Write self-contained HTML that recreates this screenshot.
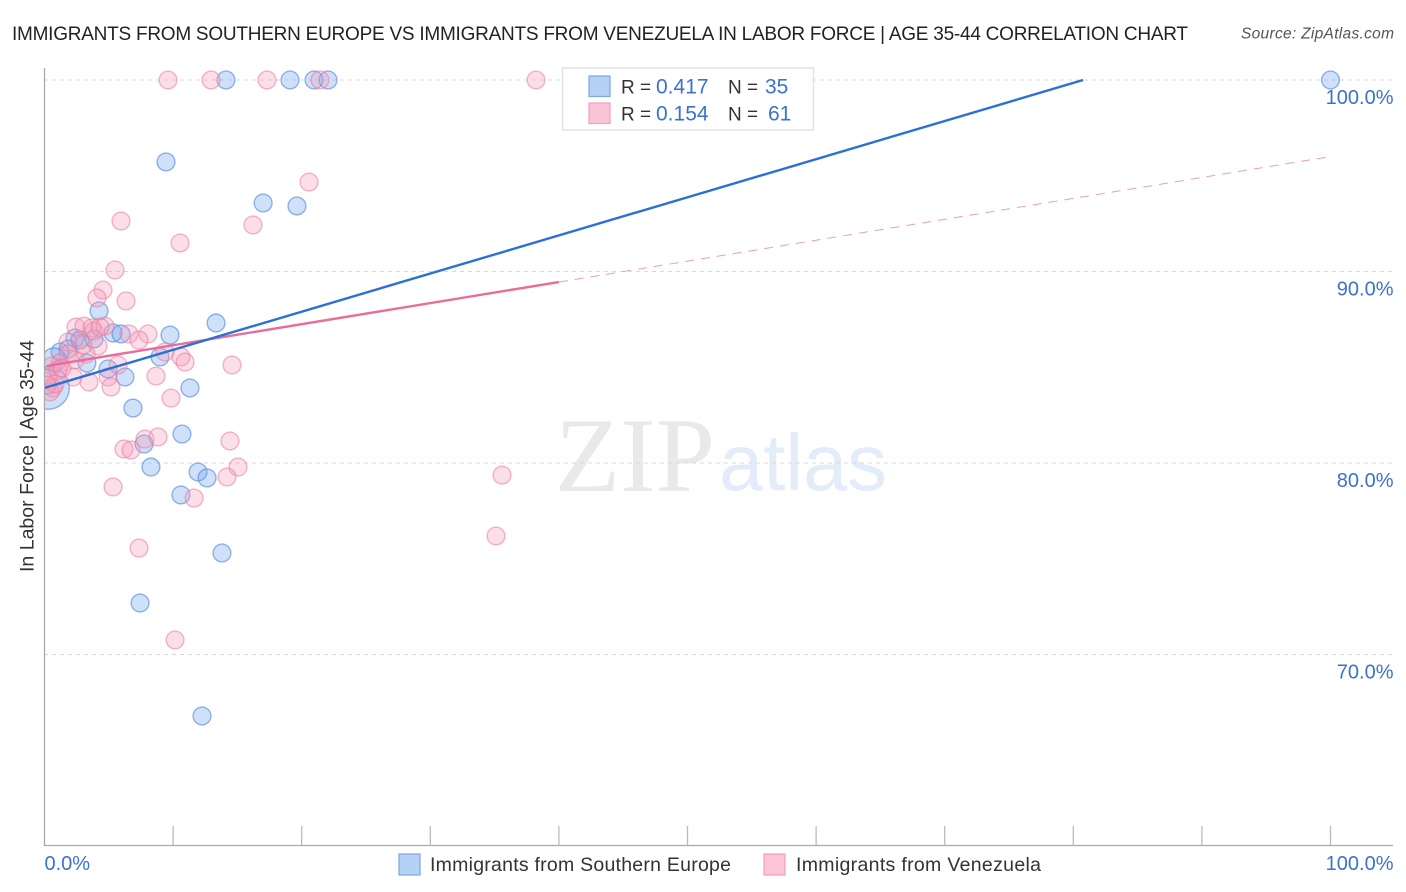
<!DOCTYPE html>
<html lang="en">
<head>
<meta charset="utf-8">
<title>Immigrants from Southern Europe vs Immigrants from Venezuela correlation chart</title>
<style>
html,body{margin:0;padding:0;background:#fff}
svg{display:block;font-family:"Liberation Sans",sans-serif}
</style>
</head>
<body>
<svg id="chart" width="1406" height="892" viewBox="0 0 1406 892" xmlns="http://www.w3.org/2000/svg">
  <defs><clipPath id="plot-clip"><rect x="45" y="60" width="1348" height="785"/></clipPath></defs>
  <text x="12" y="40" font-size="19" fill="#222" textLength="1176" lengthAdjust="spacing">IMMIGRANTS FROM SOUTHERN EUROPE VS IMMIGRANTS FROM VENEZUELA IN LABOR FORCE | AGE 35-44 CORRELATION CHART</text>
  <text x="1241" y="38.500" font-size="15.500" font-style="italic" fill="#555" textLength="153" lengthAdjust="spacing">Source: ZipAtlas.com</text>
  <g>
    <text x="555" y="491" font-family="'Liberation Serif',serif" font-size="106" fill="#e9e9e9" textLength="160" lengthAdjust="spacingAndGlyphs">ZIP</text>
    <text x="719" y="490" font-size="80" fill="#e3ecf9" textLength="168" lengthAdjust="spacingAndGlyphs">atlas</text>
  </g>
  <g id="grid"></g>
  <g id="axes"></g>
  <g id="marks" clip-path="url(#plot-clip)"></g>
  <g id="trends" clip-path="url(#plot-clip)"></g>
  <text transform="translate(33.500,572) rotate(-90)" font-size="19.500" fill="#333" textLength="232" lengthAdjust="spacing">In Labor Force | Age 35-44</text>

  <g>
    <rect x="562.500" y="68" width="251" height="62" fill="#fff" fill-opacity="0.9" stroke="#e2e2e2" stroke-width="1.500"/>
    <rect x="589" y="76" width="21" height="20.500" fill="#b5d1f6" stroke="#7ba6e0" stroke-width="1.200"/>
    <rect x="589" y="103" width="21" height="20.500" fill="#f9c5d6" stroke="#f0a0bc" stroke-width="1.200"/>
    <text x="621" y="93.500" font-size="19" fill="#333">R =</text>
    <text x="656" y="93.500" font-size="21" fill="#3b72cf">0.417</text>
    <text x="728" y="93.500" font-size="19" fill="#333">N =</text>
    <text x="765" y="93.500" font-size="21" fill="#3b72cf">35</text>
    <text x="621" y="120.500" font-size="19" fill="#333">R =</text>
    <text x="656" y="120.500" font-size="21" fill="#3b72cf">0.154</text>
    <text x="728" y="120.500" font-size="19" fill="#333">N =</text>
    <text x="768" y="120.500" font-size="21" fill="#3b72cf">61</text>
  </g>

  <g>
    <rect x="399" y="854" width="21" height="21" fill="#b5d1f6" stroke="#7ba6e0" stroke-width="1.200"/>
    <text x="430" y="871" font-size="19.500" fill="#333" textLength="301" lengthAdjust="spacing">Immigrants from Southern Europe</text>
    <rect x="764" y="854" width="21" height="21" fill="#fcc5d7" stroke="#f0a0bc" stroke-width="1.200"/>
    <text x="796" y="871" font-size="19.500" fill="#333" textLength="245" lengthAdjust="spacing">Immigrants from Venezuela</text>
  </g>
</svg>
<script>
const yTicks = [100, 90, 80, 70];
const yTickLabels = ["100.0%", "90.0%", "80.0%", "70.0%"];
const xTicks = [10, 20, 30, 40, 50, 60, 70, 80, 90, 100];
const xEndLabels = ["0.0%", "100.0%"];

const blueX = [100,14.11,19.09,20.96,22.05,9.45,17.0,19.63,4.24,13.34,9.76,5.33,5.95,2.37,2.76,3.85,1.83,1.21,0.74,8.98,3.30,4.94,6.26,11.31,6.88,10.69,7.74,8.28,11.94,12.64,10.61,13.80,7.43,12.25,0.27];
const blueY = [100,100,100,100,100,95.72,93.58,93.42,87.94,87.31,86.68,86.79,86.74,86.53,86.42,86.48,85.95,85.80,85.38,85.54,85.22,84.91,84.49,83.92,82.87,81.51,80.99,79.79,79.53,79.22,78.33,75.30,72.69,66.79,83.92];
const blueWeight = [1,1,1,1,1,1,1,1,1,1,1,1,1,1,1,1,1,1,1.35,1,1,1,1,1,1,1,1,1,1,1,1,1,1,1,2.4];

const pinkX = [9.60,12.95,17.30,21.42,38.22,20.57,5.95,16.21,10.54,5.48,4.55,4.08,6.34,2.45,3.07,3.69,3.85,4.70,4.32,6.57,8.05,7.35,1.83,4.16,3.23,9.37,10.61,10.93,14.58,5.72,1.83,1.21,8.67,2.22,3.46,4.94,5.17,9.84,0.58,1.05,0.27,0.66,0.43,14.42,7.81,8.83,6.18,6.73,15.05,14.19,5.33,11.63,35.58,35.11,7.35,10.15,0.82,1.36,2.37,0.19,3.0];
const pinkY = [100,100,100,100,100,94.67,92.64,92.43,91.49,90.08,89.03,88.62,88.46,87.10,87.15,87.05,86.89,87.15,87.10,86.74,86.74,86.42,86.32,86.11,85.69,85.80,85.54,85.27,85.12,85.12,85.69,85.22,84.54,84.49,84.23,84.49,83.97,83.39,85.07,84.86,84.44,83.92,83.71,81.15,81.25,81.36,80.73,80.68,79.79,79.27,78.75,78.17,79.37,76.19,75.56,70.76,84.13,84.96,85.38,84.07,86.16];

const blueTrendX = [0, 80.76];
const blueTrendY = [83.92, 100];
const pinkSolidX = [0.19, 40.0];
const pinkSolidY = [85.07, 89.45];
const pinkDashX = [40.0, 99.8];
const pinkDashY = [89.45, 95.98];

const NS = "http://www.w3.org/2000/svg";
function xScale(v) { return 44.5 + v * 12.86; }
function yScale(v) { return 80 + (100 - v) * 19.15; }
function make(tag, attrs, parent) {
  const el = document.createElementNS(NS, tag);
  for (const k in attrs) el.setAttribute(k, attrs[k]);
  parent.appendChild(el);
  return el;
}
const gridG = document.getElementById("grid");
const axesG = document.getElementById("axes");
const marksG = document.getElementById("marks");
const trendsG = document.getElementById("trends");

yTicks.forEach(function (t, i) {
  const g = make("line", {x1: 44, x2: 1393, y1: yScale(t), y2: yScale(t), stroke: "#d9d9d9", "stroke-width": 1, "stroke-dasharray": "4 4"}, gridG);
  
  
  const lab = make("text", {x: 1393.5, y: yScale(t) + 24, "text-anchor": "end", "font-size": 20, fill: "#3b72cf"}, axesG);
  lab.textContent = yTickLabels[i];
  
  
});

const yAxis = make("line", {x1: 44.5, x2: 44.5, y1: 68, y2: 846, stroke: "#aaa", "stroke-width": 1.3}, axesG);


const xAxis = make("line", {x1: 44, x2: 1393, y1: 845.5, y2: 845.5, stroke: "#aaa", "stroke-width": 1.3}, axesG);



xTicks.forEach(function (t) {
  const tick = make("line", {x1: xScale(t), x2: xScale(t), y1: 826, y2: 845, stroke: "#bbb", "stroke-width": 1.3}, axesG);
  
  
});

const xLabelLeft = make("text", {x: 44.5, y: 870, "font-size": 20, fill: "#3b72cf"}, axesG);
xLabelLeft.textContent = xEndLabels[0];


const xLabelRight = make("text", {x: 1393.5, y: 870, "text-anchor": "end", "font-size": 20, fill: "#3b72cf"}, axesG);
xLabelRight.textContent = xEndLabels[1];



blueX.forEach(function (v, i) {
  const c = make("circle", {cx: xScale(v), cy: yScale(blueY[i]), r: 8.9 * blueWeight[i], fill: "#76aaf0", "fill-opacity": 0.35, stroke: "#4f86d8", "stroke-opacity": 0.6, "stroke-width": 1.4}, marksG);
  
  
});
pinkX.forEach(function (v, i) {
  const c = make("circle", {cx: xScale(v), cy: yScale(pinkY[i]), r: 8.9, fill: "#f59ab8", "fill-opacity": 0.33, stroke: "#e87ba0", "stroke-opacity": 0.55, "stroke-width": 1.4}, marksG);
  
  
});

const pinkDash = make("line", {x1: xScale(pinkDashX[0]), y1: yScale(pinkDashY[0]), x2: xScale(pinkDashX[1]), y2: yScale(pinkDashY[1]), stroke: "#e8a0b8", "stroke-width": 1, "stroke-dasharray": "9 7"}, trendsG);


const pinkSolid = make("line", {x1: xScale(pinkSolidX[0]), y1: yScale(pinkSolidY[0]), x2: xScale(pinkSolidX[1]), y2: yScale(pinkSolidY[1]), stroke: "#e96c9b", "stroke-width": 2.4}, trendsG);


const blueTrend = make("line", {x1: xScale(blueTrendX[0]), y1: yScale(blueTrendY[0]), x2: xScale(blueTrendX[1]), y2: yScale(blueTrendY[1]), stroke: "#2a70d6", "stroke-width": 2.4}, trendsG);


</script>
</body>
</html>
